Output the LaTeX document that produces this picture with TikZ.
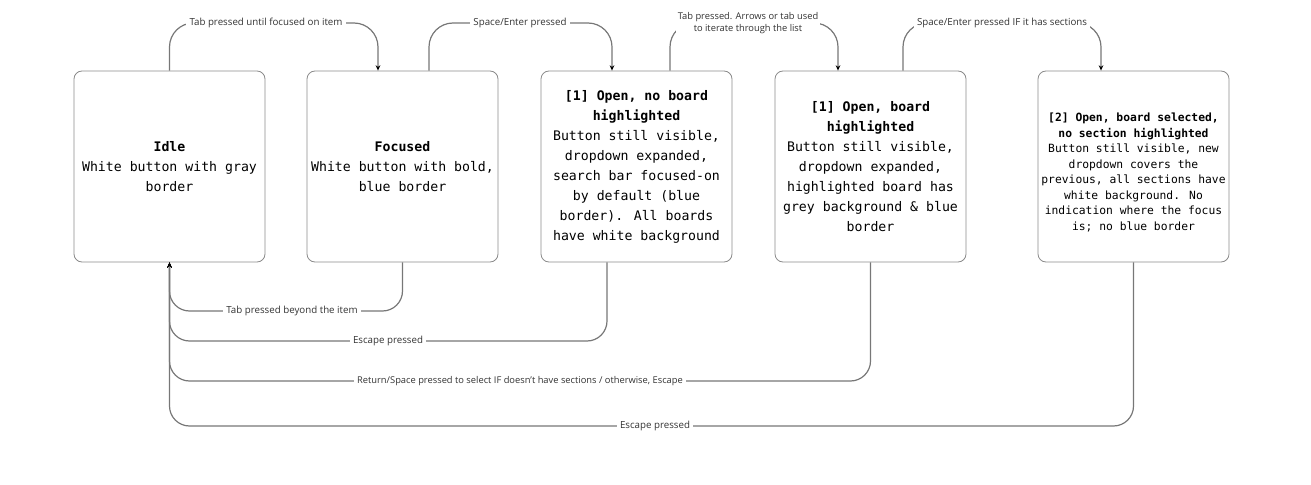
\documentclass[tikz,border=0pt]{standalone}
\usepackage{fontspec}
\setmainfont{Open Sans}
\newfontfamily\boxfont{DejaVu Sans Mono}
\usetikzlibrary{arrows.meta,calc}
\definecolor{conngray}{HTML}{777777}
\definecolor{boxgray}{HTML}{8A8A8A}
\definecolor{lblgray}{HTML}{333333}
\begin{document}
\begin{tikzpicture}[x=0.75pt,y=-0.75pt,
  state/.style={draw=boxgray, line width=0.6pt, rounded corners=6pt,
    minimum width=143.25pt, minimum height=143.25pt, inner sep=0pt,
    align=center, text=black, font=\boxfont\fontsize{9.9}{15}\selectfont},
  smallstate/.style={state, font=\boxfont\fontsize{8.5}{11.6}\selectfont},
  conn/.style={draw=conngray, line width=0.9pt, rounded corners=15pt},
  topconn/.style={conn, rounded corners=18pt},
  arr/.style={-{Stealth[length=4pt,width=3.5pt,color=black]}},
  lbl/.style={fill=white, inner sep=2.5pt, text=lblgray, align=center,
    font=\fontsize{7.3}{9.2}\selectfont}
]
\useasboundingbox (0,0) rectangle (1311,485);

% states
\node[state] (idle) at (169.5,166.5) {\textbf{Idle}\\White button with gray\\border};
\node[state] (focused) at (402.5,166.5) {\textbf{Focused}\\White button with bold,\\blue border};
\node[state] (open1) at (636.5,166.5) {\textbf{[1] Open, no board}\\\textbf{highlighted}\\Button still visible,\\dropdown expanded,\\search bar focused-on\\by default (blue\\border). All boards\\have white background};
\node[state] (open2) at (870.5,166.5) {\textbf{[1] Open, board}\\\textbf{highlighted}\\Button still visible,\\dropdown expanded,\\highlighted board has\\grey background \& blue\\border};
\node[smallstate] (open3) at (1133.5,166.5) {\rule{0pt}{15.5pt}\textbf{[2] Open, board selected,}\\\textbf{no section highlighted}\\Button still visible, new\\dropdown covers the\\previous, all sections have\\white background. No\\indication where the focus\\is; no blue border};

% top connectors
\coordinate (t1) at (266,23);
\coordinate (t2) at (520,23);
\coordinate (t3) at (748,23);
\coordinate (t4) at (1002,23);
\draw[topconn, arr] (idle.north) |- (t1) -| ($(focused.north)+(-24.5,0)$);
\draw[topconn, arr] ($(focused.north)+(26.5,0)$) |- (t2) -| ($(open1.north)+(-24.5,0)$);
\draw[topconn, arr] ($(open1.north)+(33.5,0)$) |- (t3) -| ($(open2.north)+(-32.5,0)$);
\draw[topconn, arr] ($(open2.north)+(32.5,0)$) |- (t4) -| ($(open3.north)+(-32.5,0)$);
\node[lbl] (l1) at (t1) {Tab pressed until focused on item};
\node[lbl] (l2) at (t2) {Space/Enter pressed};
\node[lbl, font=\fontsize{7}{9.2}\selectfont, inner sep=1.5pt] (l3) at (748,23) {Tab pressed. Arrows or tab used\\to iterate through the list};
\node[lbl] (l4) at (t4) {Space/Enter pressed IF it has sections};

% bottom connectors
\coordinate (b1) at (292,311);
\coordinate (b2) at (388,341);
\coordinate (b3) at (520,381);
\coordinate (b4) at (655,426);
\draw[conn, arr] (open3.south) |- (b4) -| (idle.south);
\draw[conn, arr] (open2.south) |- (b3) -| (idle.south);
\draw[conn, arr] ($(open1.south)+(-29.5,0)$) |- (b2) -| (idle.south);
\draw[conn, arr] (focused.south) |- (b1) -| (idle.south);
\node[lbl] (l5) at (b1) {Tab pressed beyond the item};
\node[lbl] (l6) at (b2) {Escape pressed};
\node[lbl, font=\fontsize{7}{9}\selectfont] (l7) at (b3) {Return/Space pressed to select IF doesn't have sections / otherwise, Escape};
\node[lbl] (l8) at (b4) {Escape pressed};
\end{tikzpicture}
\end{document}
